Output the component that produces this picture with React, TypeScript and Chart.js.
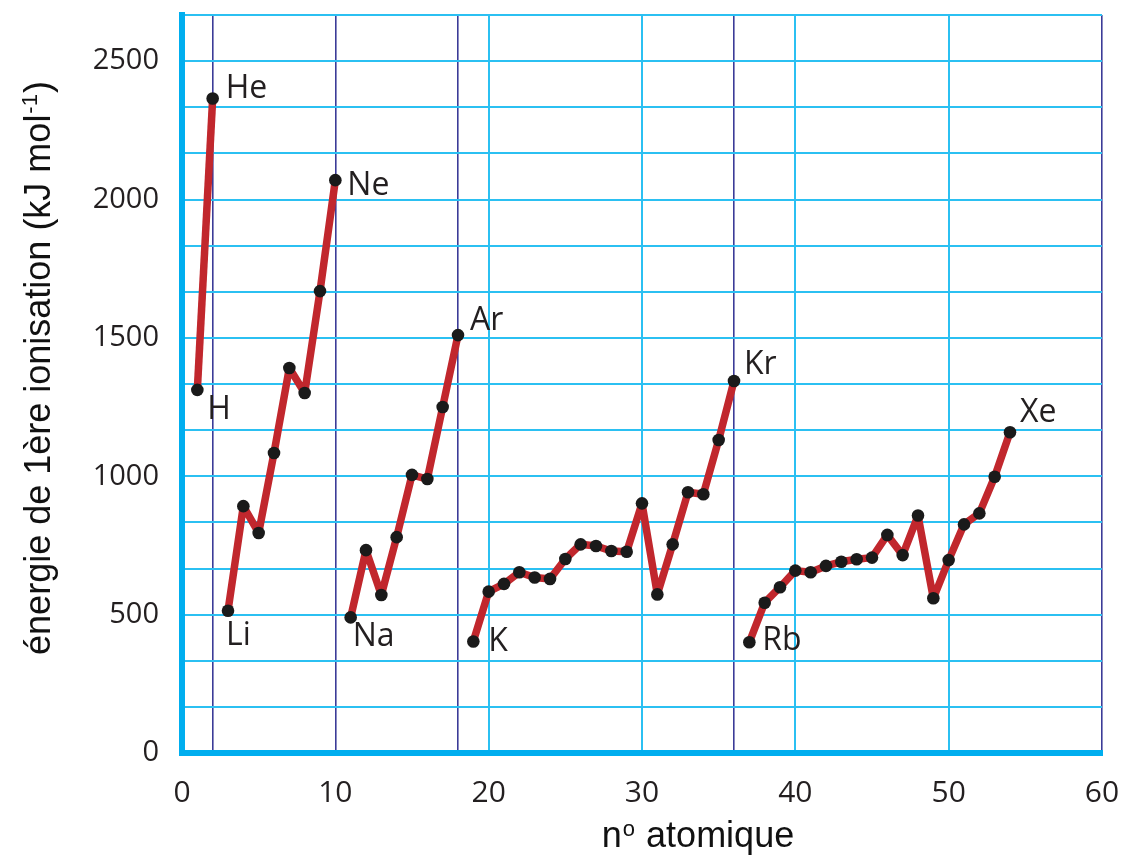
import React, { useEffect, useRef } from 'react';
import { Chart, registerables } from 'chart.js';

Chart.register(...registerables);

// ---- data ----
const atomicNumbers = [
  1, 2, 3, 4, 5, 6, 7, 8, 9, 10,
  11, 12, 13, 14, 15, 16, 17, 18,
  19, 20, 21, 22, 23, 24, 25, 26, 27, 28, 29, 30, 31, 32, 33, 34, 35, 36,
  37, 38, 39, 40, 41, 42, 43, 44, 45, 46, 47, 48, 49, 50, 51, 52, 53, 54,
];
const energies = [
  1312, 2365,
  514, 892, 795, 1084, 1391, 1301, 1669, 2070,
  490, 733, 571, 780, 1005, 990, 1250, 1510,
  403, 583, 611, 653, 634, 629, 701, 754, 748, 730, 727, 902, 573, 754, 942, 935, 1131, 1344,
  400, 543, 599, 659, 653, 676, 691, 700, 706, 788, 715, 858, 559, 697, 826, 866, 998, 1159,
];
const periodRanges = [
  [1, 2],
  [3, 10],
  [11, 18],
  [19, 36],
  [37, 54],
];
const elementLabels = ['H', 'He', 'Li', 'Ne', 'Na', 'Ar', 'K', 'Kr', 'Rb', 'Xe'];
const labelAtomicNumbers = [1, 2, 3, 10, 11, 18, 19, 36, 37, 54];
const xTickLabels = [0, 10, 20, 30, 40, 50, 60];
const xGridValues = [0, 2, 10, 18, 20, 30, 36, 40, 50, 60];
const nobleGasLines = [2, 10, 18, 36, 60];
const yTickLabels = [0, 500, 1000, 1500, 2000, 2500];
const yGridStep = 500 / 3;
const yMax = 8000 / 3;
const yTitleMain = 'énergie de 1ère ionisation (kJ mol';
const yTitleSup = '-1';
const yTitleEnd = ')';
const xTitleMain = 'n';
const xTitleSup = 'o';
const xTitleEnd = ' atomique';

// ---- styles ----
const labelOffsets = [
  [10, 20], [13, -10], [-2, 25], [12, 6], [2, 19],
  [12, -14], [15, 0], [10, -16], [13, -1], [10, -19],
];
const LIGHT_BLUE = '#2bc0f2';
const AXIS_BLUE = '#00aeef';
const NAVY = '#3c3c98';
const LINE_RED = '#c1272d';
const TEXT = '#231f20';
const TITLE_FONT = '"Liberation Sans", Arial, sans-serif';
const TITLE_SIZE = 36;
const SUP_SIZE = 22;

const labelPlugin = {
  id: 'elementLabels',
  afterDatasetsDraw(chart: any) {
    const { ctx, scales } = chart;
    ctx.save();
    ctx.font = '32px "Open Sans", sans-serif';
    ctx.fillStyle = TEXT;
    ctx.textAlign = 'left';
    ctx.textBaseline = 'middle';
    elementLabels.forEach((name, i) => {
      const z = labelAtomicNumbers[i];
      const idx = atomicNumbers.indexOf(z);
      const px = scales.x.getPixelForValue(z);
      const py = scales.y.getPixelForValue(energies[idx]);
      ctx.fillText(name, px + labelOffsets[i][0], py + labelOffsets[i][1]);
    });
    ctx.restore();
  },
};

function drawSupText(ctx: any, parts: [string, string, string], raise: number) {
  const big = `${TITLE_SIZE}px ${TITLE_FONT}`;
  const small = `${SUP_SIZE}px ${TITLE_FONT}`;
  ctx.font = big;
  const w1 = ctx.measureText(parts[0]).width;
  const w3 = ctx.measureText(parts[2]).width;
  ctx.font = small;
  const w2 = ctx.measureText(parts[1]).width;
  const total = w1 + w2 + w3 + 2;
  let x = -total / 2;
  ctx.font = big;
  ctx.fillText(parts[0], x, 0);
  x += w1 + 1;
  ctx.font = small;
  ctx.fillText(parts[1], x, -raise);
  x += w2 + 1;
  ctx.font = big;
  ctx.fillText(parts[2], x, 0);
}

const axisTitlePlugin = {
  id: 'axisTitles',
  afterDraw(chart: any) {
    const { ctx } = chart;
    ctx.save();
    ctx.fillStyle = '#111';
    ctx.textAlign = 'left';
    ctx.textBaseline = 'alphabetic';
    // y title (rotated)
    ctx.save();
    ctx.translate(50, 368);
    ctx.rotate(-Math.PI / 2);
    drawSupText(ctx, [yTitleMain, yTitleSup, yTitleEnd], 13);
    ctx.restore();
    // x title
    ctx.save();
    ctx.translate(698, 847);
    drawSupText(ctx, [xTitleMain, xTitleSup, xTitleEnd], 11);
    ctx.restore();
    ctx.restore();
  },
};

export default function App() {
  const canvasRef = useRef<HTMLCanvasElement | null>(null);

  useEffect(() => {
    if (!canvasRef.current) return;
    const datasets = periodRanges.map(([a, b]) => ({
      data: atomicNumbers
        .map((z, i) => ({ x: z, y: energies[i] }))
        .filter((p) => p.x >= a && p.x <= b),
      borderColor: LINE_RED,
      borderWidth: 7.5,
      borderJoinStyle: 'round',
      borderCapStyle: 'round',
      pointRadius: 6.3,
      pointBackgroundColor: '#1a1a1a',
      pointBorderColor: '#1a1a1a',
      pointBorderWidth: 0,
      tension: 0,
      fill: false,
    }));

    const chart = new Chart(canvasRef.current, {
      type: 'line',
      data: { datasets },
      plugins: [labelPlugin, axisTitlePlugin],
      options: {
        responsive: false,
        animation: false,
        layout: { padding: { top: 15, right: 22, left: 0, bottom: 0 } },
        plugins: { legend: { display: false }, tooltip: { enabled: false } },
        scales: {
          x: {
            type: 'linear',
            min: 0,
            max: 60,
            afterBuildTicks: (scale: any) => {
              scale.ticks = xGridValues.map((v) => ({ value: v }));
            },
            afterFit: (scale: any) => {
              scale.height = 104;
              scale.paddingLeft = 0;
              scale.paddingRight = 0;
            },
            ticks: {
              autoSkip: false,
              maxRotation: 0,
              padding: 22,
              color: TEXT,
              font: { family: '"Open Sans", sans-serif', size: 30 },
              callback: (v: any) => (xTickLabels.includes(Number(v)) ? String(v) : ''),
            },
            grid: {
              drawTicks: false,
              color: (c: any) => (nobleGasLines.includes(c.tick?.value) ? NAVY : LIGHT_BLUE),
              lineWidth: (c: any) => (nobleGasLines.includes(c.tick?.value) ? 1.6 : 2),
            },
            border: { display: true, color: AXIS_BLUE, width: 6 },
            title: { display: false, text: 'nº atomique' },
          },
          y: {
            type: 'linear',
            min: 0,
            max: yMax,
            afterBuildTicks: (scale: any) => {
              const t = [];
              for (let i = 0; i <= 16; i++) t.push({ value: i * yGridStep });
              scale.ticks = t;
            },
            afterFit: (scale: any) => {
              scale.width = 182;
              scale.paddingTop = 0;
              scale.paddingBottom = 0;
            },
            ticks: {
              autoSkip: false,
              padding: 23,
              color: TEXT,
              font: { family: '"Open Sans", sans-serif', size: 29 },
              callback: (v: any) => {
                const r = Math.round(Number(v));
                return yTickLabels.includes(r) ? String(r) : '';
              },
            },
            grid: { drawTicks: false, color: LIGHT_BLUE, lineWidth: 2 },
            border: { display: true, color: AXIS_BLUE, width: 6 },
            title: { display: false, text: 'énergie de 1ère ionisation (kJ mol-1)' },
          },
        },
      },
    } as any);
    return () => chart.destroy();
  }, []);

  return (
    <div style={{ position: 'absolute', left: 0, top: 0, width: 1124, height: 857, background: '#fff' }}>
      <canvas ref={canvasRef} width={1124} height={857} style={{ display: 'block' }} />
    </div>
  );
}
